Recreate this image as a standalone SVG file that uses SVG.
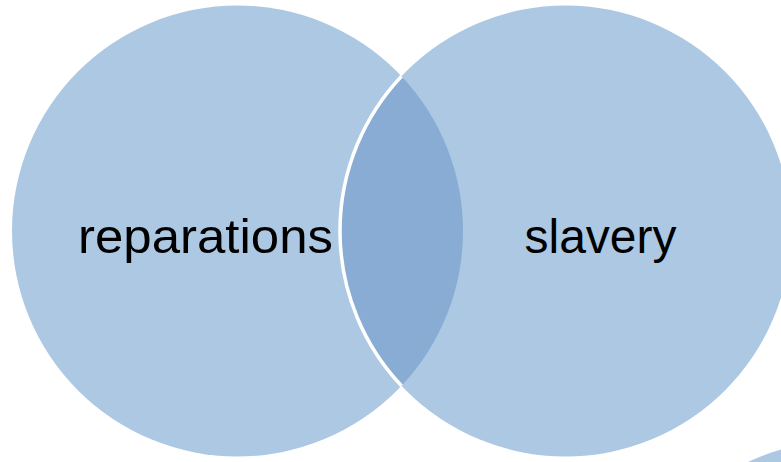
<svg xmlns="http://www.w3.org/2000/svg" width="781" height="462" viewBox="0 0 781 462">
<style>
.c{fill:#adc8e3}
.lens{fill:#88acd3}
.lbl{font-family:"Liberation Sans",Arial,sans-serif;font-size:48px;fill:#000;text-anchor:middle}
</style>
<rect width="781" height="462" fill="#fff"/>
<g id="circle-bottom"><circle class="c" cx="844" cy="666" r="225.5"/></g>
<g id="circle-reparations"><circle class="c" cx="237.5" cy="231" r="225.5"/></g>
<g id="circle-slavery"><circle class="c" cx="565.5" cy="231" r="225.5"/></g>
<g id="overlap">
<path class="lens" d="M401.5,76.2 A225.5,225.5 0 0 1 401.5,385.8 A225.5,225.5 0 0 1 401.5,76.2 Z"/>
<path d="M401.5,76.2 A225.5,225.5 0 0 0 401.5,385.8" fill="none" stroke="#fff" stroke-width="3.5"/>
</g>
<g id="labels">
<text class="lbl" x="205.5" y="253" textLength="255" lengthAdjust="spacingAndGlyphs">reparations</text>
<text class="lbl" x="600.5" y="253">slavery</text>
</g>
</svg>
